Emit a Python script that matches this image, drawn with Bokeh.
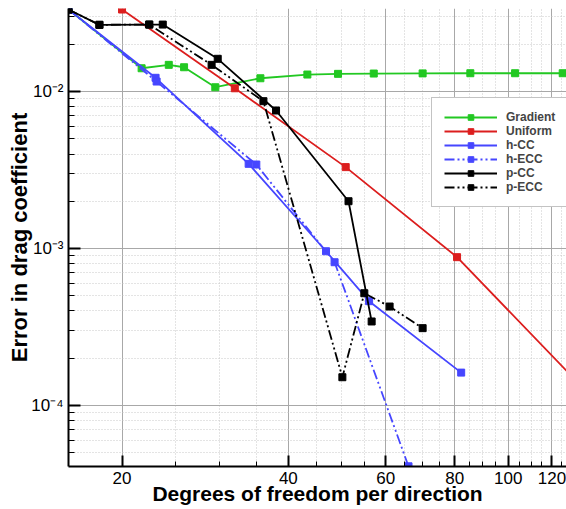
from bokeh.plotting import figure
from bokeh.models import FixedTicker, CustomJSTickFormatter, Range1d, Legend
from bokeh.embed import file_html
from bokeh.resources import INLINE

# ---- data ----
gradient_x = [16, 21.7, 24.3, 25.9, 29.5, 35.6, 43.3, 49.2, 57.1, 70.0, 85.4, 102.9, 125.5]
gradient_y = [0.0333, 0.01407, 0.01479, 0.01428, 0.01065, 0.01215, 0.01283, 0.01296,
              0.01302, 0.01305, 0.01308, 0.01308, 0.01308]

uniform_x = [20, 32, 50.8, 80.8, 130]
uniform_y = [0.0333, 0.01049, 0.0033, 0.000881, 0.000155]

hcc_x = [16, 23.0, 33.9, 46.8, 56.0, 82.2]
hcc_y = [0.0333, 0.01223, 0.003463, 0.000961, 0.000462, 0.000162]

hecc_x = [16, 23.1, 35.0, 48.5, 66.0]
hecc_y = [0.0333, 0.01158, 0.003428, 0.000818, 4.1e-5]

pcc_x = [16, 18.2, 22.4, 23.7, 29.8, 38.0, 51.4, 56.6]
pcc_y = [0.0333, 0.0266, 0.0267, 0.0267, 0.01616, 0.00757, 0.002001, 0.000343]

pecc_x = [16, 18.2, 22.4, 29.05, 36.05, 50.1, 54.9, 61.0, 70.0]
pecc_y = [0.0333, 0.0266, 0.0267, 0.01479, 0.00868, 0.0001514, 0.000519, 0.000427, 0.000311]

x_major = [20, 40, 60, 80, 100, 120]
x_minor = [25, 30, 35, 45, 50, 55, 65, 70, 75, 85, 90, 95, 105, 110, 115, 125]
y_major = [1e-4, 1e-3, 1e-2]
y_minor = [5e-5, 6e-5, 7e-5, 8e-5, 9e-5,
           2e-4, 3e-4, 4e-4, 5e-4, 6e-4, 7e-4, 8e-4, 9e-4,
           2e-3, 3e-3, 4e-3, 5e-3, 6e-3, 7e-3, 8e-3, 9e-3,
           2e-2, 3e-2]

x_title = "Degrees of freedom per direction"
y_title = "Error in drag coefficient"

series = [
    ("Gradient", gradient_x, gradient_y, "#22c822", "solid"),
    ("Uniform", uniform_x, uniform_y, "#dc1e1e", "solid"),
    ("h-CC", hcc_x, hcc_y, "#4646ff", "solid"),
    ("h-ECC", hecc_x, hecc_y, "#4646ff", "10 3 2 3 2 3"),
    ("p-CC", pcc_x, pcc_y, "#000000", "solid"),
    ("p-ECC", pecc_x, pecc_y, "#000000", "10 3 2 3 2 3"),
]

FONT = "Liberation Sans"

p = figure(width=566, height=509, x_axis_type="log", y_axis_type="log",
           x_range=Range1d(16, 127.5), y_range=Range1d(4.088e-5, 0.0338),
           output_backend="svg", toolbar_location=None,
           min_border_left=68, min_border_right=0, min_border_top=8, min_border_bottom=43)
p.outline_line_color = None
p.background_fill_color = "white"

items = []
for name, xs, ys, col, dash in series:
    r1 = p.line(xs, ys, line_color=col, line_width=1.8, line_dash=dash)
    r2 = p.scatter(xs, ys, marker="square", size=7, fill_color=col, line_color=col)
    items.append((name, [r1, r2]))

legend = Legend(items=items, location=(363, 259))
legend.label_text_font = FONT
legend.label_text_font_style = "bold"
legend.label_text_font_size = "12px"
legend.glyph_width = 53
legend.glyph_height = 14
legend.label_height = 14
legend.spacing = 0
legend.padding = 12
legend.margin = 0
legend.label_standoff = 9
legend.border_line_color = "#888888"
legend.border_line_width = 1
legend.background_fill_alpha = 1.0
p.add_layout(legend)

# axes
p.xaxis.ticker = FixedTicker(ticks=x_major, minor_ticks=x_minor)
p.yaxis.ticker = FixedTicker(ticks=y_major, minor_ticks=y_minor)
p.xaxis.formatter = CustomJSTickFormatter(code="return tick.toFixed(0);")
p.yaxis.formatter = CustomJSTickFormatter(code="""
const e = Math.round(Math.log10(tick));
const sup = {'-':'\u207b','0':'\u2070','1':'\u00b9','2':'\u00b2','3':'\u00b3','4':'\u2074',
             '5':'\u2075','6':'\u2076','7':'\u2077','8':'\u2078','9':'\u2079'};
return '10' + String(e).split('').map(c => sup[c]).join('');
""")

for ax in (p.xaxis[0], p.yaxis[0]):
    ax.axis_line_color = "black"
    ax.axis_line_width = 2
    ax.major_tick_line_color = "black"
    ax.major_tick_line_width = 2
    ax.minor_tick_line_color = "black"
    ax.minor_tick_line_width = 1
    ax.major_tick_out = 0
    ax.minor_tick_out = 0
    ax.major_label_text_font = FONT
    ax.major_label_text_font_size = "17px"
    ax.major_label_text_color = "black"
    ax.axis_label_text_font = FONT
    ax.axis_label_text_font_style = "bold"
    ax.axis_label_text_color = "black"

p.xaxis.axis_label = x_title
p.yaxis.axis_label = y_title
p.xaxis.axis_label_text_font_size = "21px"
p.yaxis.axis_label_text_font_size = "22px"
p.xaxis.major_tick_in = 11
p.xaxis.minor_tick_in = 5
p.yaxis.major_tick_in = 12
p.yaxis.minor_tick_in = 6
p.xaxis.major_label_standoff = 5
p.yaxis.major_label_standoff = 5
p.xaxis.axis_label_standoff = -5
p.yaxis.axis_label_standoff = -4

for g in (p.xgrid[0], p.ygrid[0]):
    g.grid_line_color = "#a8a8a8"
    g.grid_line_width = 1
    g.minor_grid_line_color = "#c8c8c8"
    g.minor_grid_line_dash = "1 2"
    g.minor_grid_line_width = 1

open("out.html", "w").write(file_html(p, INLINE))
